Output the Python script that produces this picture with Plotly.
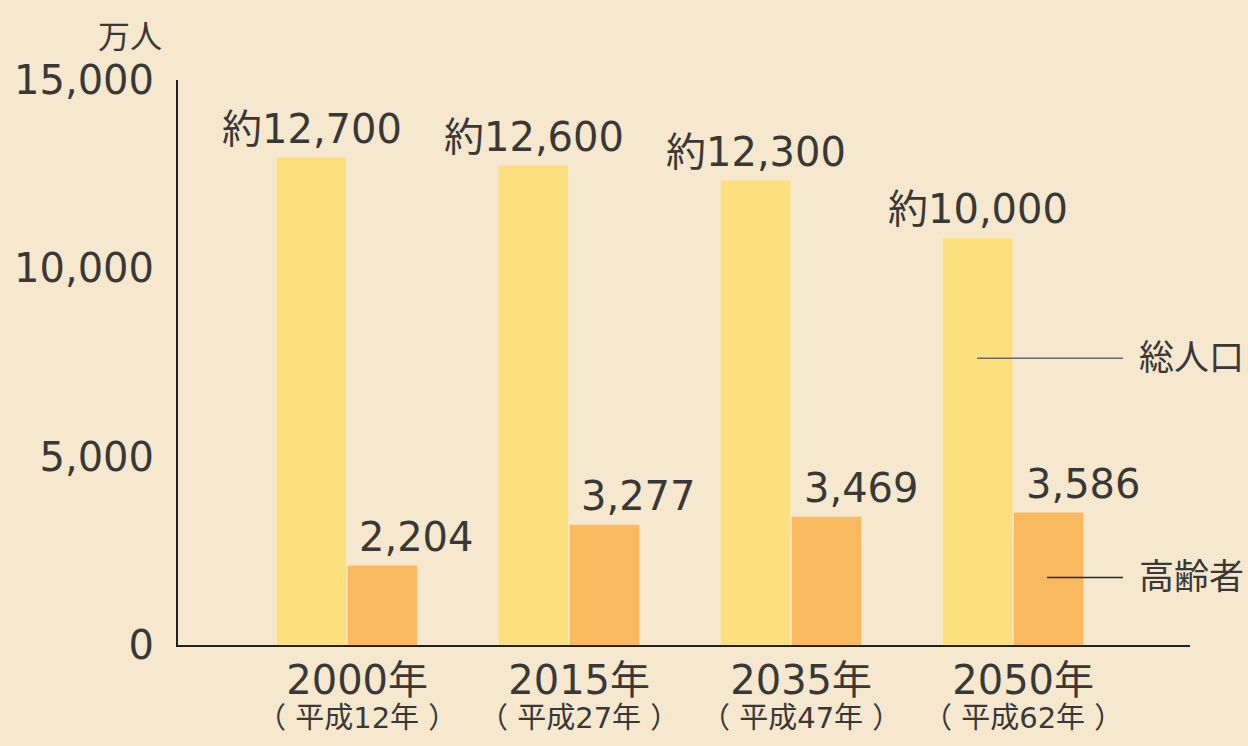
import plotly.graph_objects as go

years = ['2000年', '2015年', '2035年', '2050年']
heisei = ['（ 平成12年 ）', '（ 平成27年 ）', '（ 平成47年 ）', '（ 平成62年 ）']
# bar heights as drawn in the picture (万人)
total = [12940, 12730, 12330, 10800]
elderly = [2110, 3195, 3405, 3515]
total_labels = ['約12,700', '約12,600', '約12,300', '約10,000']
elderly_labels = ['2,204', '3,277', '3,469', '3,586']
y_ticks = [0, 5000, 10000, 15000]

bg = '#f5e8cf'
ink = '#3a3836'
num_font = 'DejaVu Sans, Noto Sans CJK JP'

fig = go.Figure()
fig.add_trace(go.Bar(x=years, y=total, name='総人口', marker=dict(color='#fde07e', line=dict(width=0))))
fig.add_trace(go.Bar(x=years, y=elderly, name='高齢者', marker=dict(color='#f9b95e', line=dict(width=0))))

# value labels above bars
for yr, v, t in zip(years, total, total_labels):
    fig.add_annotation(x=yr, y=v, text=t, showarrow=False, xshift=-35, yshift=4,
                       yanchor='bottom', font=dict(size=40, color=ink, family=num_font))
for yr, v, t in zip(years, elderly, elderly_labels):
    fig.add_annotation(x=yr, y=v, text=t, showarrow=False, xshift=70, yshift=4,
                       yanchor='bottom', font=dict(size=40, color=ink, family=num_font))

# category labels under the axis (two sizes in one text box)
for yr, h in zip(years, heisei):
    fig.add_annotation(x=yr, y=0, showarrow=False, xshift=10, yshift=-10, yanchor='top',
                       text=(f"<span style='font-size:40px'>{yr}</span><br>"
                             f"<span style='font-size:29px'>{h}</span>"),
                       font=dict(size=26, color=ink, family=num_font))

# series labels with leader lines
fig.add_shape(type='line', x0=2.838, x1=3.495, y0=total[-1] * 0.705, y1=total[-1] * 0.705,
              line=dict(color='#6e6478', width=1.5))
fig.add_shape(type='line', x0=3.153, x1=3.495, y0=elderly[-1] * 0.51, y1=elderly[-1] * 0.51,
              line=dict(color='#2a2a2a', width=1.5))
fig.add_annotation(x=3.56, y=total[-1] * 0.705, text='総人口', showarrow=False, xanchor='left',
                   font=dict(size=35, color=ink, family=num_font))
fig.add_annotation(x=3.56, y=elderly[-1] * 0.51, text='高齢者', showarrow=False, xanchor='left',
                   font=dict(size=35, color=ink, family=num_font))

# unit
fig.add_annotation(xref='paper', yref='paper', x=0, y=1, xanchor='right', yanchor='bottom',
                   xshift=-14, yshift=22, text='万人', showarrow=False,
                   font=dict(size=32, color=ink, family=num_font))

fig.update_layout(
    width=1248, height=746,
    margin=dict(l=178, r=58, t=80, b=101),
    paper_bgcolor=bg, plot_bgcolor=bg,
    barmode='group', bargap=0.36, bargroupgap=0.02,
    showlegend=False,
    font=dict(family=num_font, color=ink),
)
fig.update_xaxes(range=[-0.761, 3.797], showticklabels=False, showline=True,
                 linecolor='#222', linewidth=2, showgrid=False, ticks='', zeroline=False)
fig.update_yaxes(range=[0, 15000], tickvals=y_ticks, tickformat=',', showline=True,
                 linecolor='#222', linewidth=2, showgrid=False, zeroline=False, ticks='',
                 ticklabelstandoff=14, tickfont=dict(size=40, color=ink, family=num_font))

fig.write_html('out.html', config={'displayModeBar': False},
               post_script="document.body.style.margin='0';")
